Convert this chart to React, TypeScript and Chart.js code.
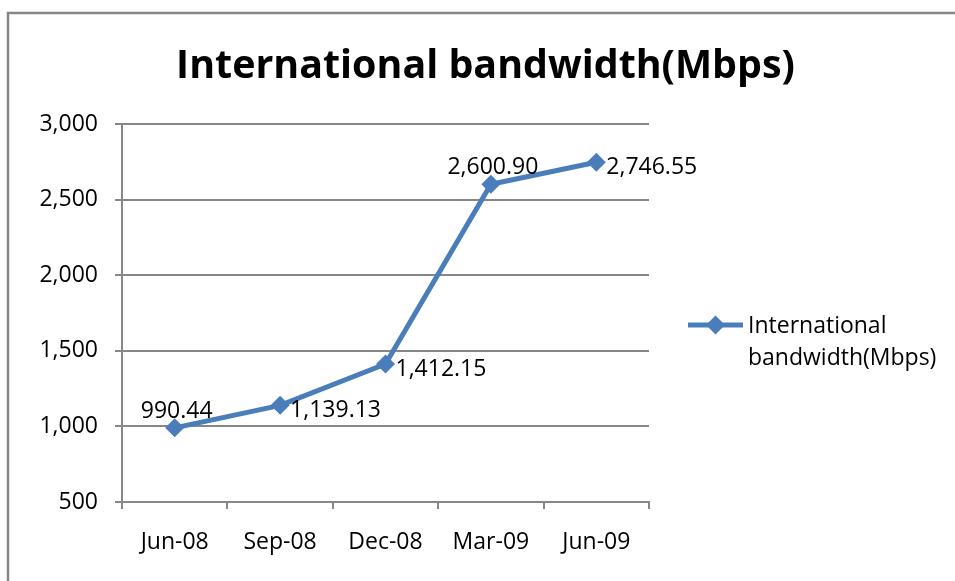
import React, { useEffect, useRef } from "react";
import { Chart, registerables } from "chart.js";

Chart.register(...registerables);

const TITLE = "International bandwidth(Mbps)";
const SERIES_NAME = "International bandwidth(Mbps)";
const LEGEND_LINES = ["International", "bandwidth(Mbps)"];
const CATEGORIES = ["Jun-08", "Sep-08", "Dec-08", "Mar-09", "Jun-09"];
const VALUES = [990.44, 1139.13, 1412.15, 2600.9, 2746.55];
const LABEL_POSITIONS = ["above", "right", "right", "above", "right"];
const Y_MIN = 500;
const Y_MAX = 3000;
const Y_STEP = 500;

const FONT = "'Open Sans', 'Noto Sans', sans-serif";
const LINE_COLOR = "#4A7EBB";
const GRID_COLOR = "#878787";

const fmtTick = (v: number) => v.toLocaleString("en-US");
const fmtLabel = (v: number) =>
  v.toLocaleString("en-US", { minimumFractionDigits: 2, maximumFractionDigits: 2 });

function drawDiamond(ctx: CanvasRenderingContext2D, x: number, y: number, r: number) {
  ctx.beginPath();
  ctx.moveTo(x, y - r);
  ctx.lineTo(x + r, y);
  ctx.lineTo(x, y + r);
  ctx.lineTo(x - r, y);
  ctx.closePath();
  ctx.fill();
}

const decorPlugin = {
  id: "decor",
  beforeDraw(chart: any) {
    const ctx = chart.ctx as CanvasRenderingContext2D;
    ctx.save();
    ctx.fillStyle = "#ffffff";
    ctx.fillRect(0, 0, chart.width, chart.height);
    ctx.strokeStyle = GRID_COLOR;
    ctx.lineWidth = 2.5;
    ctx.strokeRect(8, 13, chart.width + 20, chart.height + 20);

    // title
    ctx.fillStyle = "#000000";
    let size = 40;
    ctx.font = `bold ${size}px ${FONT}`;
    const w = ctx.measureText(TITLE).width;
    const target = 619;
    size = Math.min(42, (size * target) / w);
    ctx.font = `bold ${size}px ${FONT}`;
    ctx.textAlign = "center";
    ctx.textBaseline = "alphabetic";
    ctx.fillText(TITLE, 485.5, 78);
    ctx.restore();
  },
  afterDatasetsDraw(chart: any) {
    const ctx = chart.ctx as CanvasRenderingContext2D;
    const meta = chart.getDatasetMeta(0);
    ctx.save();
    ctx.fillStyle = "#000000";
    ctx.font = `23px ${FONT}`;
    ctx.textBaseline = "alphabetic";
    meta.data.forEach((pt: any, i: number) => {
      const text = fmtLabel(VALUES[i]);
      if (LABEL_POSITIONS[i] === "above") {
        ctx.textAlign = "center";
        ctx.fillText(text, pt.x + 2, pt.y - 10);
      } else {
        ctx.textAlign = "left";
        ctx.fillText(text, pt.x + 10, pt.y + 12);
      }
    });

    // legend
    const ly = 325;
    ctx.strokeStyle = LINE_COLOR;
    ctx.lineWidth = 5;
    ctx.beginPath();
    ctx.moveTo(688, ly);
    ctx.lineTo(743, ly);
    ctx.stroke();
    ctx.fillStyle = LINE_COLOR;
    drawDiamond(ctx, 715.5, ly, 9.5);
    ctx.fillStyle = "#000000";
    ctx.textAlign = "left";
    ctx.font = `23px ${FONT}`;
    ctx.fillText(LEGEND_LINES[0], 748, 333);
    ctx.fillText(LEGEND_LINES[1], 748, 365);
    ctx.restore();
  },
};

export default function App() {
  const ref = useRef<HTMLCanvasElement | null>(null);
  useEffect(() => {
    if (!ref.current) return;
    const chart = new Chart(ref.current, {
      type: "line",
      data: {
        labels: CATEGORIES,
        datasets: [
          {
            label: SERIES_NAME,
            data: VALUES,
            borderColor: LINE_COLOR,
            backgroundColor: LINE_COLOR,
            borderWidth: 5,
            pointStyle: "rectRot",
            pointRadius: 9.5,
            pointBorderWidth: 0,
            pointBackgroundColor: LINE_COLOR,
            tension: 0,
          },
        ],
      },
      options: {
        animation: false,
        responsive: false,
        maintainAspectRatio: false,
        events: [],
        layout: { padding: { top: 124, right: 306, left: 0, bottom: 0 } },
        plugins: {
          legend: { display: false },
          title: { display: false },
          tooltip: { enabled: false },
        },
        scales: {
          x: {
            offset: true,
            grid: {
              offset: true,
              drawOnChartArea: false,
              drawTicks: true,
              tickLength: 7,
              color: GRID_COLOR,
              lineWidth: 2,
            },
            border: { display: true, color: GRID_COLOR, width: 2 },
            ticks: {
              color: "#000000",
              font: { family: FONT, size: 23 },
              padding: 20,
              maxRotation: 0,
              autoSkip: false,
            },
            afterFit: (scale: any) => {
              scale.height = 79;
            },
          },
          y: {
            min: Y_MIN,
            max: Y_MAX,
            grid: {
              color: GRID_COLOR,
              lineWidth: 2,
              drawTicks: true,
              tickLength: 7,
            },
            border: { display: true, color: GRID_COLOR, width: 2 },
            ticks: {
              stepSize: Y_STEP,
              color: "#000000",
              font: { family: FONT, size: 23 },
              padding: 17,
              callback: (v: any) => fmtTick(Number(v)),
            },
            afterFit: (scale: any) => {
              scale.width = 122;
            },
          },
        },
      },
      plugins: [decorPlugin],
    });
    return () => chart.destroy();
  }, []);
  return (
    <div style={{ position: "absolute", left: 0, top: 0, width: 955, height: 581 }}>
      <canvas ref={ref} width={955} height={581} style={{ width: 955, height: 581, display: "block" }} />
    </div>
  );
}
